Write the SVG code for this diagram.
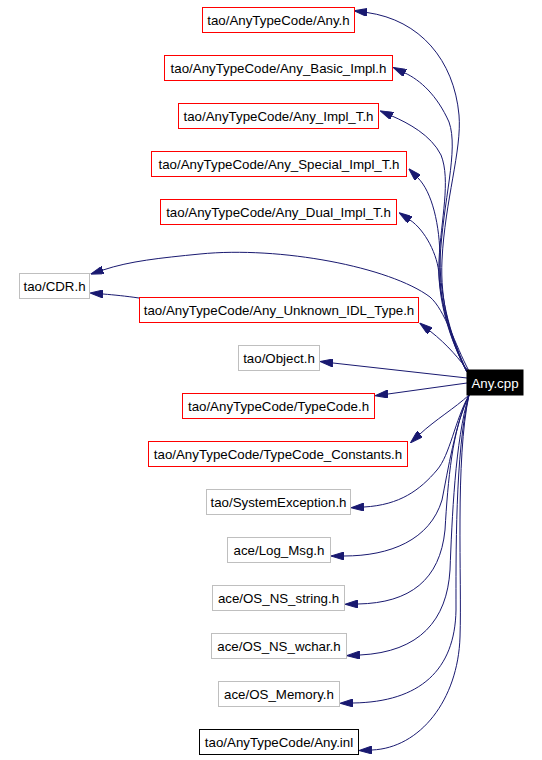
<svg xmlns="http://www.w3.org/2000/svg" width="542" height="760" viewBox="0 0 542 760">
<style>
.n rect{fill:#fff;stroke-width:1}
.r rect{stroke:#ff0000}
.g rect{stroke:#bfbfbf}
.k rect{stroke:#000}
text{font-family:"Liberation Sans",Arial,sans-serif;font-size:13.3px;text-anchor:middle;fill:#000}
#edges path{fill:none;stroke:#191970;stroke-width:1;marker-end:url(#ah)}
</style>
<defs>
<marker id="ah" markerUnits="userSpaceOnUse" markerWidth="13" markerHeight="8" refX="0" refY="4" orient="auto" viewBox="0 0 13 8">
<path d="M0,0 L13,4 L0,8 z" fill="#191970" stroke="#191970"/>
</marker>
</defs>
<rect width="542" height="760" fill="#fff"/>
<g id="edges">
<path d="M467,372 C450,340 440,300 442,260 C445,200 462,150 459,115 C454,60 420,20 367,12.5"/>
<path d="M467,372 C450,340 438,300 440,260 C443,200 459,150 449,122 C437,95 420,80 405,73"/>
<path d="M467,372 C450,340 437,300 439,260 C441,220 451,180 441,155 C431,135 408,123 392,116"/>
<path d="M467,372 C452,340 440,300 440,260 C440,225 432,192 418,178"/>
<path d="M467,372 C452,340 440,300 439,275 C438,255 425,230 410,220"/>
<path d="M469,371 C455,345 445,310 430,297 C390,267 280,246 200,254 C160,258 130,261 103,270"/>
<path d="M139,298 C125,296 115,295 103,294"/>
<path d="M469,372 C460,360 448,345 430,331"/>
<path d="M467,378 L333,363"/>
<path d="M467,383 L388,394"/>
<path d="M469,395 C455,408 435,420 420,434"/>
<path d="M469,395 C455,420 450,455 437,470 C420,490 400,505 364,507"/>
<path d="M469,395 C455,425 448,470 442,500 C430,540 390,556 344,556"/>
<path d="M469,395 C452,430 448,480 445,530 C440,580 410,603 358,604"/>
<path d="M469,395 C455,440 452,520 450,570 C447,620 420,652 360,655"/>
<path d="M469,395 C455,450 456,560 456,610 C455,670 420,702 353,703"/>
<path d="M469,395 C455,460 462,580 460,637 C458,700 420,748 372,750"/>
</g>
<g id="n_any_h" class="n r"><rect x="202.5" y="7.5" width="152" height="25"/><text x="278.5" y="25">tao/AnyTypeCode/Any.h</text></g>
<g id="n_basic" class="n r"><rect x="164.5" y="55.5" width="228" height="25"/><text x="278.5" y="73">tao/AnyTypeCode/Any_Basic_Impl.h</text></g>
<g id="n_impl_t" class="n r"><rect x="178.5" y="103.5" width="200" height="25"/><text x="278.5" y="121">tao/AnyTypeCode/Any_Impl_T.h</text></g>
<g id="n_special" class="n r"><rect x="151.5" y="151.5" width="255" height="25"/><text x="279" y="169">tao/AnyTypeCode/Any_Special_Impl_T.h</text></g>
<g id="n_dual" class="n r"><rect x="160.5" y="199.5" width="236" height="25"/><text x="278.5" y="217">tao/AnyTypeCode/Any_Dual_Impl_T.h</text></g>
<g id="n_cdr" class="n g"><rect x="19.5" y="273.5" width="70" height="25"/><text x="54.5" y="291">tao/CDR.h</text></g>
<g id="n_unknown" class="n r"><rect x="139.5" y="297.5" width="279" height="25"/><text x="279" y="315">tao/AnyTypeCode/Any_Unknown_IDL_Type.h</text></g>
<g id="n_object" class="n g"><rect x="238.5" y="345.5" width="81" height="25"/><text x="279" y="363">tao/Object.h</text></g>
<g id="n_anycpp"><rect x="467" y="370" width="56" height="25" fill="#000" stroke="#000"/><text x="495" y="387.5" style="fill:#fff">Any.cpp</text></g>
<g id="n_typecode" class="n r"><rect x="182.5" y="393.5" width="192" height="25"/><text x="278.5" y="411">tao/AnyTypeCode/TypeCode.h</text></g>
<g id="n_tcconst" class="n r"><rect x="148.5" y="441.5" width="259" height="25"/><text x="278" y="459">tao/AnyTypeCode/TypeCode_Constants.h</text></g>
<g id="n_sysexc" class="n g"><rect x="206.5" y="489.5" width="144" height="25"/><text x="278.5" y="507">tao/SystemException.h</text></g>
<g id="n_logmsg" class="n g"><rect x="227.5" y="537.5" width="103" height="25"/><text x="279" y="555">ace/Log_Msg.h</text></g>
<g id="n_string" class="n g"><rect x="212.5" y="585.5" width="132" height="25"/><text x="278.5" y="603">ace/OS_NS_string.h</text></g>
<g id="n_wchar" class="n g"><rect x="211.5" y="633.5" width="135" height="25"/><text x="279" y="651">ace/OS_NS_wchar.h</text></g>
<g id="n_memory" class="n g"><rect x="218.5" y="681.5" width="121" height="25"/><text x="279" y="699">ace/OS_Memory.h</text></g>
<g id="n_anyinl" class="n k"><rect x="199.5" y="729.5" width="159" height="25"/><text x="279" y="747">tao/AnyTypeCode/Any.inl</text></g>
</svg>
